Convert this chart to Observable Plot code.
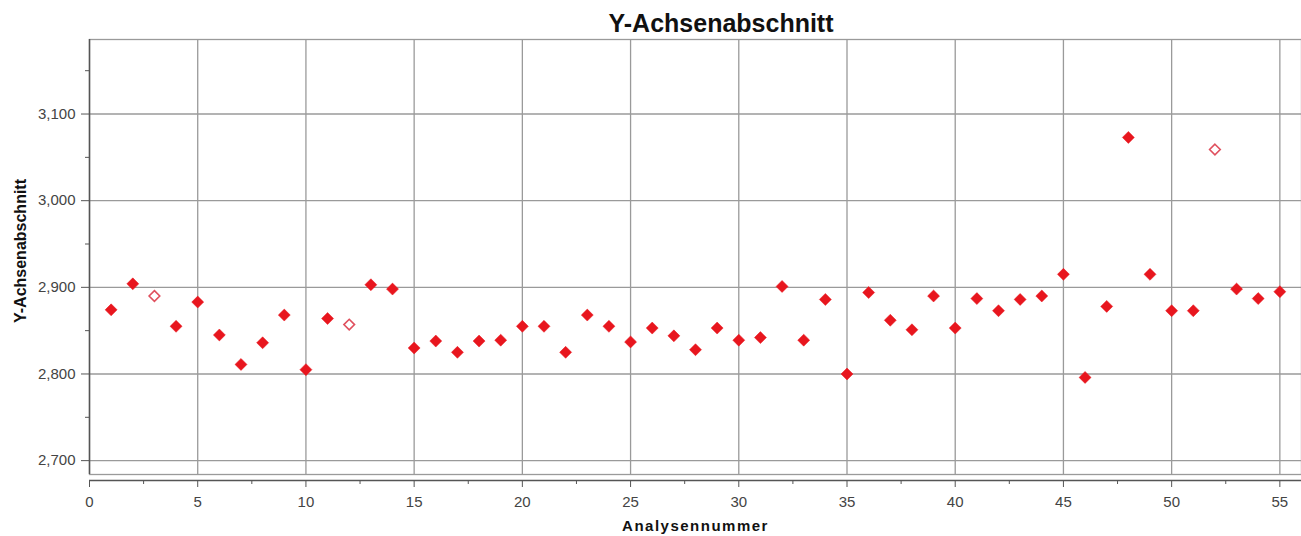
<!DOCTYPE html>
<html>
<head>
<meta charset="utf-8">
<script src="https://cdn.jsdelivr.net/npm/d3@7"></script>
<script src="https://cdn.jsdelivr.net/npm/@observablehq/plot@0.6"></script>
<style>
  html, body { margin: 0; padding: 0; background: #fff; overflow: hidden; }
  #wrap { position: relative; width: 1301px; height: 536px; }
  #title { position: absolute; left: 0; top: 11px; width: 1442px; text-align: center;
           font: bold 25px "Liberation Sans", Arial, sans-serif; line-height: 25px; color: #111; }
  #chart { position: absolute; left: 0; top: 36px; }
</style>
</head>
<body>
<div id="wrap">
  <div id="title">Y-Achsenabschnitt</div>
  <div id="chart"></div>
</div>
<script>
// Analysis number (x) and y-intercept value (y)
const analysisNo = [1,2,3,4,5,6,7,8,9,10,11,12,13,14,15,16,17,18,19,20,21,22,23,24,25,26,27,28,29,30,31,32,33,34,35,36,37,38,39,40,41,42,43,44,45,46,47,48,49,50,51,52,53,54,55];
const intercept = [2874,2904,2890,2855,2883,2845,2811,2836,2868,2805,2864,2857,2903,2898,2830,2838,2825,2838,2839,2855,2855,2825,2868,2855,2837,2853,2844,2828,2853,2839,2842,2901,2839,2886,2800,2894,2862,2851,2890,2853,2887,2873,2886,2890,2915,2796,2878,3073,2915,2873,2873,3059,2898,2887,2895];
// analyses drawn as open (excluded) markers
const excluded = [3, 12, 52];

const xTicks = [0,5,10,15,20,25,30,35,40,45,50,55];
const xMinorTicks = [2.5,7.5,12.5,17.5,22.5,27.5,32.5,37.5,42.5,47.5,52.5];
const yTicks = [2700,2800,2900,3000,3100];
const yMinorTicks = [2750,2850,2950,3050,3150];
const xDomain = [0, 56];
const yDomain = [2684, 3186];

const points = analysisNo.map((n, i) => ({n, v: intercept[i], open: excluded.includes(n)}));
const filled = points.filter(d => !d.open);
const open = points.filter(d => d.open);

const grid = "#9a9a9a";
const axisCol = "#555";

const chart = Plot.plot({
  width: 1301,
  height: 500,
  marginTop: 3,
  marginLeft: 89,
  marginRight: 0,
  marginBottom: 62,
  x: {domain: xDomain},
  y: {domain: yDomain},
  style: {fontFamily: "'Liberation Sans', Arial, sans-serif", fontSize: "15px", background: "#fff", overflow: "visible"},
  marks: [
    Plot.ruleX(xTicks.slice(1), {stroke: grid, strokeWidth: 1.3}),
    Plot.ruleY(yTicks, {stroke: grid, strokeWidth: 1.3}),
    Plot.frame({stroke: grid, strokeWidth: 1.3}),
    Plot.ruleX([0], {stroke: axisCol, strokeWidth: 1.5}),
    Plot.ruleY([yDomain[0]], {dy: 6, stroke: axisCol, strokeWidth: 1.5}),
    Plot.axisY(yTicks, {tickSize: 8, tickPadding: 6, tickFormat: d3.format(","), label: null, stroke: axisCol, fill: "#444"}),
    Plot.axisY(yMinorTicks, {tickSize: 4, tickFormat: () => "", label: null, stroke: axisCol}),
    Plot.axisX(xTicks, {dy: 6, tickSize: 7, tickPadding: 9, label: null, stroke: axisCol, fill: "#444"}),
    Plot.axisX(xMinorTicks, {dy: 6, tickSize: 4, tickFormat: () => "", label: null, stroke: axisCol}),
    Plot.dot(filled, {x: "n", y: "v", symbol: "diamond2", r: 5.4, fill: "#e8161e", stroke: "#e8161e", strokeWidth: 0.5}),
    Plot.dot(open, {x: "n", y: "v", symbol: "diamond2", r: 4.8, fill: "#fff", stroke: "#e0505e", strokeWidth: 1.6}),
    Plot.text(["Y-Achsenabschnitt"], {frameAnchor: "left", textAnchor: "middle", dx: -69, dy: -6, rotate: -90, fontWeight: "bold", fontSize: 16, fill: "#111"}),
    Plot.text(["Analysennummer"], {frameAnchor: "bottom", lineAnchor: "bottom", dy: 56, fontWeight: "bold", fontSize: 15, fill: "#111"})
  ]
});
d3.select(chart).selectAll("text").filter(function() { return this.textContent === "Analysennummer"; })
  .style("letter-spacing", "1.5px");
document.getElementById("chart").appendChild(chart);
</script>
</body>
</html>
